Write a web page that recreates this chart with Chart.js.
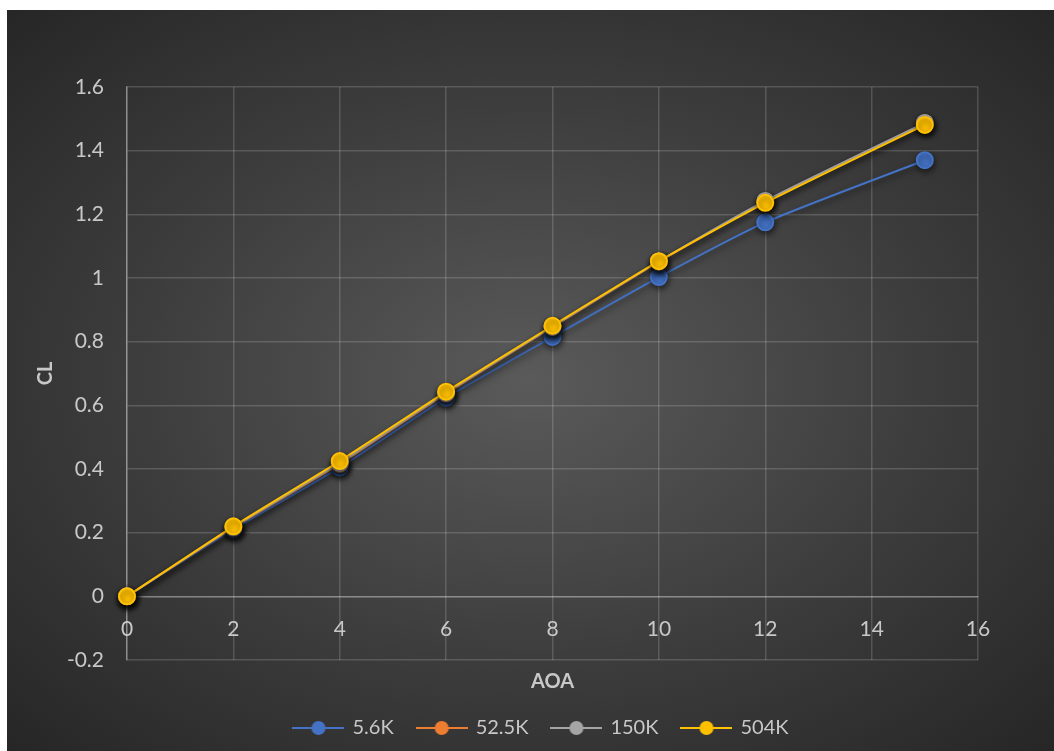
<!DOCTYPE html>
<html lang="en">
<head>
    <meta charset="UTF-8">
    <title>CL vs AOA</title>
    <script src="https://cdn.jsdelivr.net/npm/chart.js"></script>
    <style>
        html, body { margin: 0; padding: 0; background: #ffffff; }
        #wrap {
            position: absolute; left: 7px; top: 10px; width: 1047px; height: 741px;
            background: radial-gradient(ellipse at 50% 50%, #5a5a5a 0%, #3c3c3c 55%, #262626 100%);
        }
    </style>
</head>
<body>
    <div id="wrap"><canvas id="clChart"></canvas></div>

    <script>
        // angle of attack (deg) and lift coefficient per Reynolds number
        const aoa = [0, 2, 4, 6, 8, 10, 12, 15];
        const cl56k = [0, 0.210, 0.405, 0.624, 0.815, 1.003, 1.175, 1.370];
        const cl525k = [0, 0.216, 0.416, 0.637, 0.846, 1.051, 1.240, 1.486];
        const cl150k = [0, 0.217, 0.419, 0.639, 0.847, 1.052, 1.242, 1.487];
        const cl504k = [0, 0.220, 0.425, 0.643, 0.850, 1.053, 1.236, 1.481];

        const seriesNames = ['5.6K', '52.5K', '150K', '504K'];
        const seriesColors = ['#4472C4', '#ED7D31', '#A5A5A5', '#FFC000'];
        const seriesValues = [cl56k, cl525k, cl150k, cl504k];

        const xTicks = { min: 0, max: 16, step: 2 };
        const yTicks = { min: -0.2, max: 1.6, step: 0.2 };

        const textColor = '#c8c8c8';
        const gridColor = 'rgba(255,255,255,0.16)';
        const fontFamily = 'Lato, "Noto Sans", sans-serif';

        // little line-with-dot marker for the legend
        function legendMarker(color) {
            const c = document.createElement('canvas');
            c.width = 52; c.height = 16;
            const g = c.getContext('2d');
            g.strokeStyle = color;
            g.lineWidth = 2;
            g.beginPath(); g.moveTo(0, 8); g.lineTo(52, 8); g.stroke();
            g.fillStyle = color;
            g.beginPath(); g.arc(26, 8, 7, 0, Math.PI * 2); g.fill();
            return c;
        }

        // soft drop shadow under lines and markers
        const shadowPlugin = {
            id: 'shadow',
            beforeDatasetDraw(chart) {
                const ctx = chart.ctx;
                ctx.save();
                ctx.shadowColor = 'rgba(0,0,0,0.55)';
                ctx.shadowBlur = 6;
                ctx.shadowOffsetX = 1;
                ctx.shadowOffsetY = 3;
            },
            afterDatasetDraw(chart) {
                chart.ctx.restore();
            }
        };

        const datasets = seriesNames.map((name, i) => ({
            label: name,
            data: aoa.map((a, j) => ({ x: a, y: seriesValues[i][j] })),
            borderColor: seriesColors[i],
            backgroundColor: seriesColors[i],
            pointBackgroundColor: seriesColors[i],
            pointBorderColor: seriesColors[i],
            pointRadius: 8,
            pointHoverRadius: 8,
            borderWidth: 2,
            tension: 0.2,
            showLine: true,
            clip: false,
            order: seriesNames.length - i
        }));

        const ctx = document.getElementById('clChart').getContext('2d');
        new Chart(ctx, {
            type: 'scatter',
            data: { datasets },
            plugins: [shadowPlugin],
            options: {
                responsive: true,
                maintainAspectRatio: false,
                animation: false,
                layout: { padding: { left: 22, right: 0, top: 77, bottom: 3 } },
                scales: {
                    x: {
                        type: 'linear',
                        position: { y: 0 },
                        min: xTicks.min,
                        max: xTicks.max,
                        ticks: {
                            stepSize: xTicks.step,
                            color: textColor,
                            font: { family: fontFamily, size: 21 },
                            padding: 20,
                            callback: v => String(v)
                        },
                        grid: { color: gridColor, lineWidth: 1.5, drawTicks: false },
                        border: { display: true, color: 'rgba(255,255,255,0.28)', width: 1.5 }
                    },
                    y: {
                        type: 'linear',
                        position: 'left',
                        min: yTicks.min,
                        max: yTicks.max,
                        ticks: {
                            stepSize: yTicks.step,
                            color: textColor,
                            font: { family: fontFamily, size: 21 },
                            padding: 23,
                            callback: v => String(Math.round(v * 10) / 10)
                        },
                        grid: { color: gridColor, lineWidth: 1.5, drawTicks: false },
                        border: { display: true, color: 'rgba(255,255,255,0.35)', width: 1.5 },
                        title: {
                            display: true,
                            text: 'CL',
                            color: textColor,
                            font: { family: fontFamily, size: 20, weight: 'bold' },
                            padding: { top: 5, bottom: 0 }
                        },
                        afterFit(scale) { scale.width = 98; }
                    },
                    yRight: {
                        type: 'linear',
                        position: 'right',
                        display: true,
                        ticks: { display: false },
                        grid: { display: false },
                        border: { display: false },
                        afterFit(scale) { scale.width = 76; }
                    }
                },
                plugins: {
                    title: {
                        display: true,
                        text: 'AOA',
                        position: 'bottom',
                        fullSize: false,
                        weight: 500,
                        color: textColor,
                        font: { family: fontFamily, size: 20, weight: 'bold' },
                        padding: { top: 10, bottom: 0 }
                    },
                    legend: {
                        position: 'bottom',
                        labels: {
                            color: textColor,
                            font: { family: fontFamily, size: 20 },
                            usePointStyle: true,
                            pointStyleWidth: 48,
                            padding: 24,
                            sort: (a, b) => a.datasetIndex - b.datasetIndex,
                            generateLabels(chart) {
                                return chart.data.datasets.map((ds, i) => ({
                                    text: ds.label,
                                    fontColor: textColor,
                                    pointStyle: legendMarker(seriesColors[i]),
                                    lineWidth: 0,
                                    strokeStyle: 'transparent',
                                    fillStyle: seriesColors[i],
                                    datasetIndex: i,
                                    hidden: !chart.isDatasetVisible(i)
                                }));
                            }
                        }
                    },
                    tooltip: { enabled: false }
                }
            }
        });
    </script>
</body>
</html>
